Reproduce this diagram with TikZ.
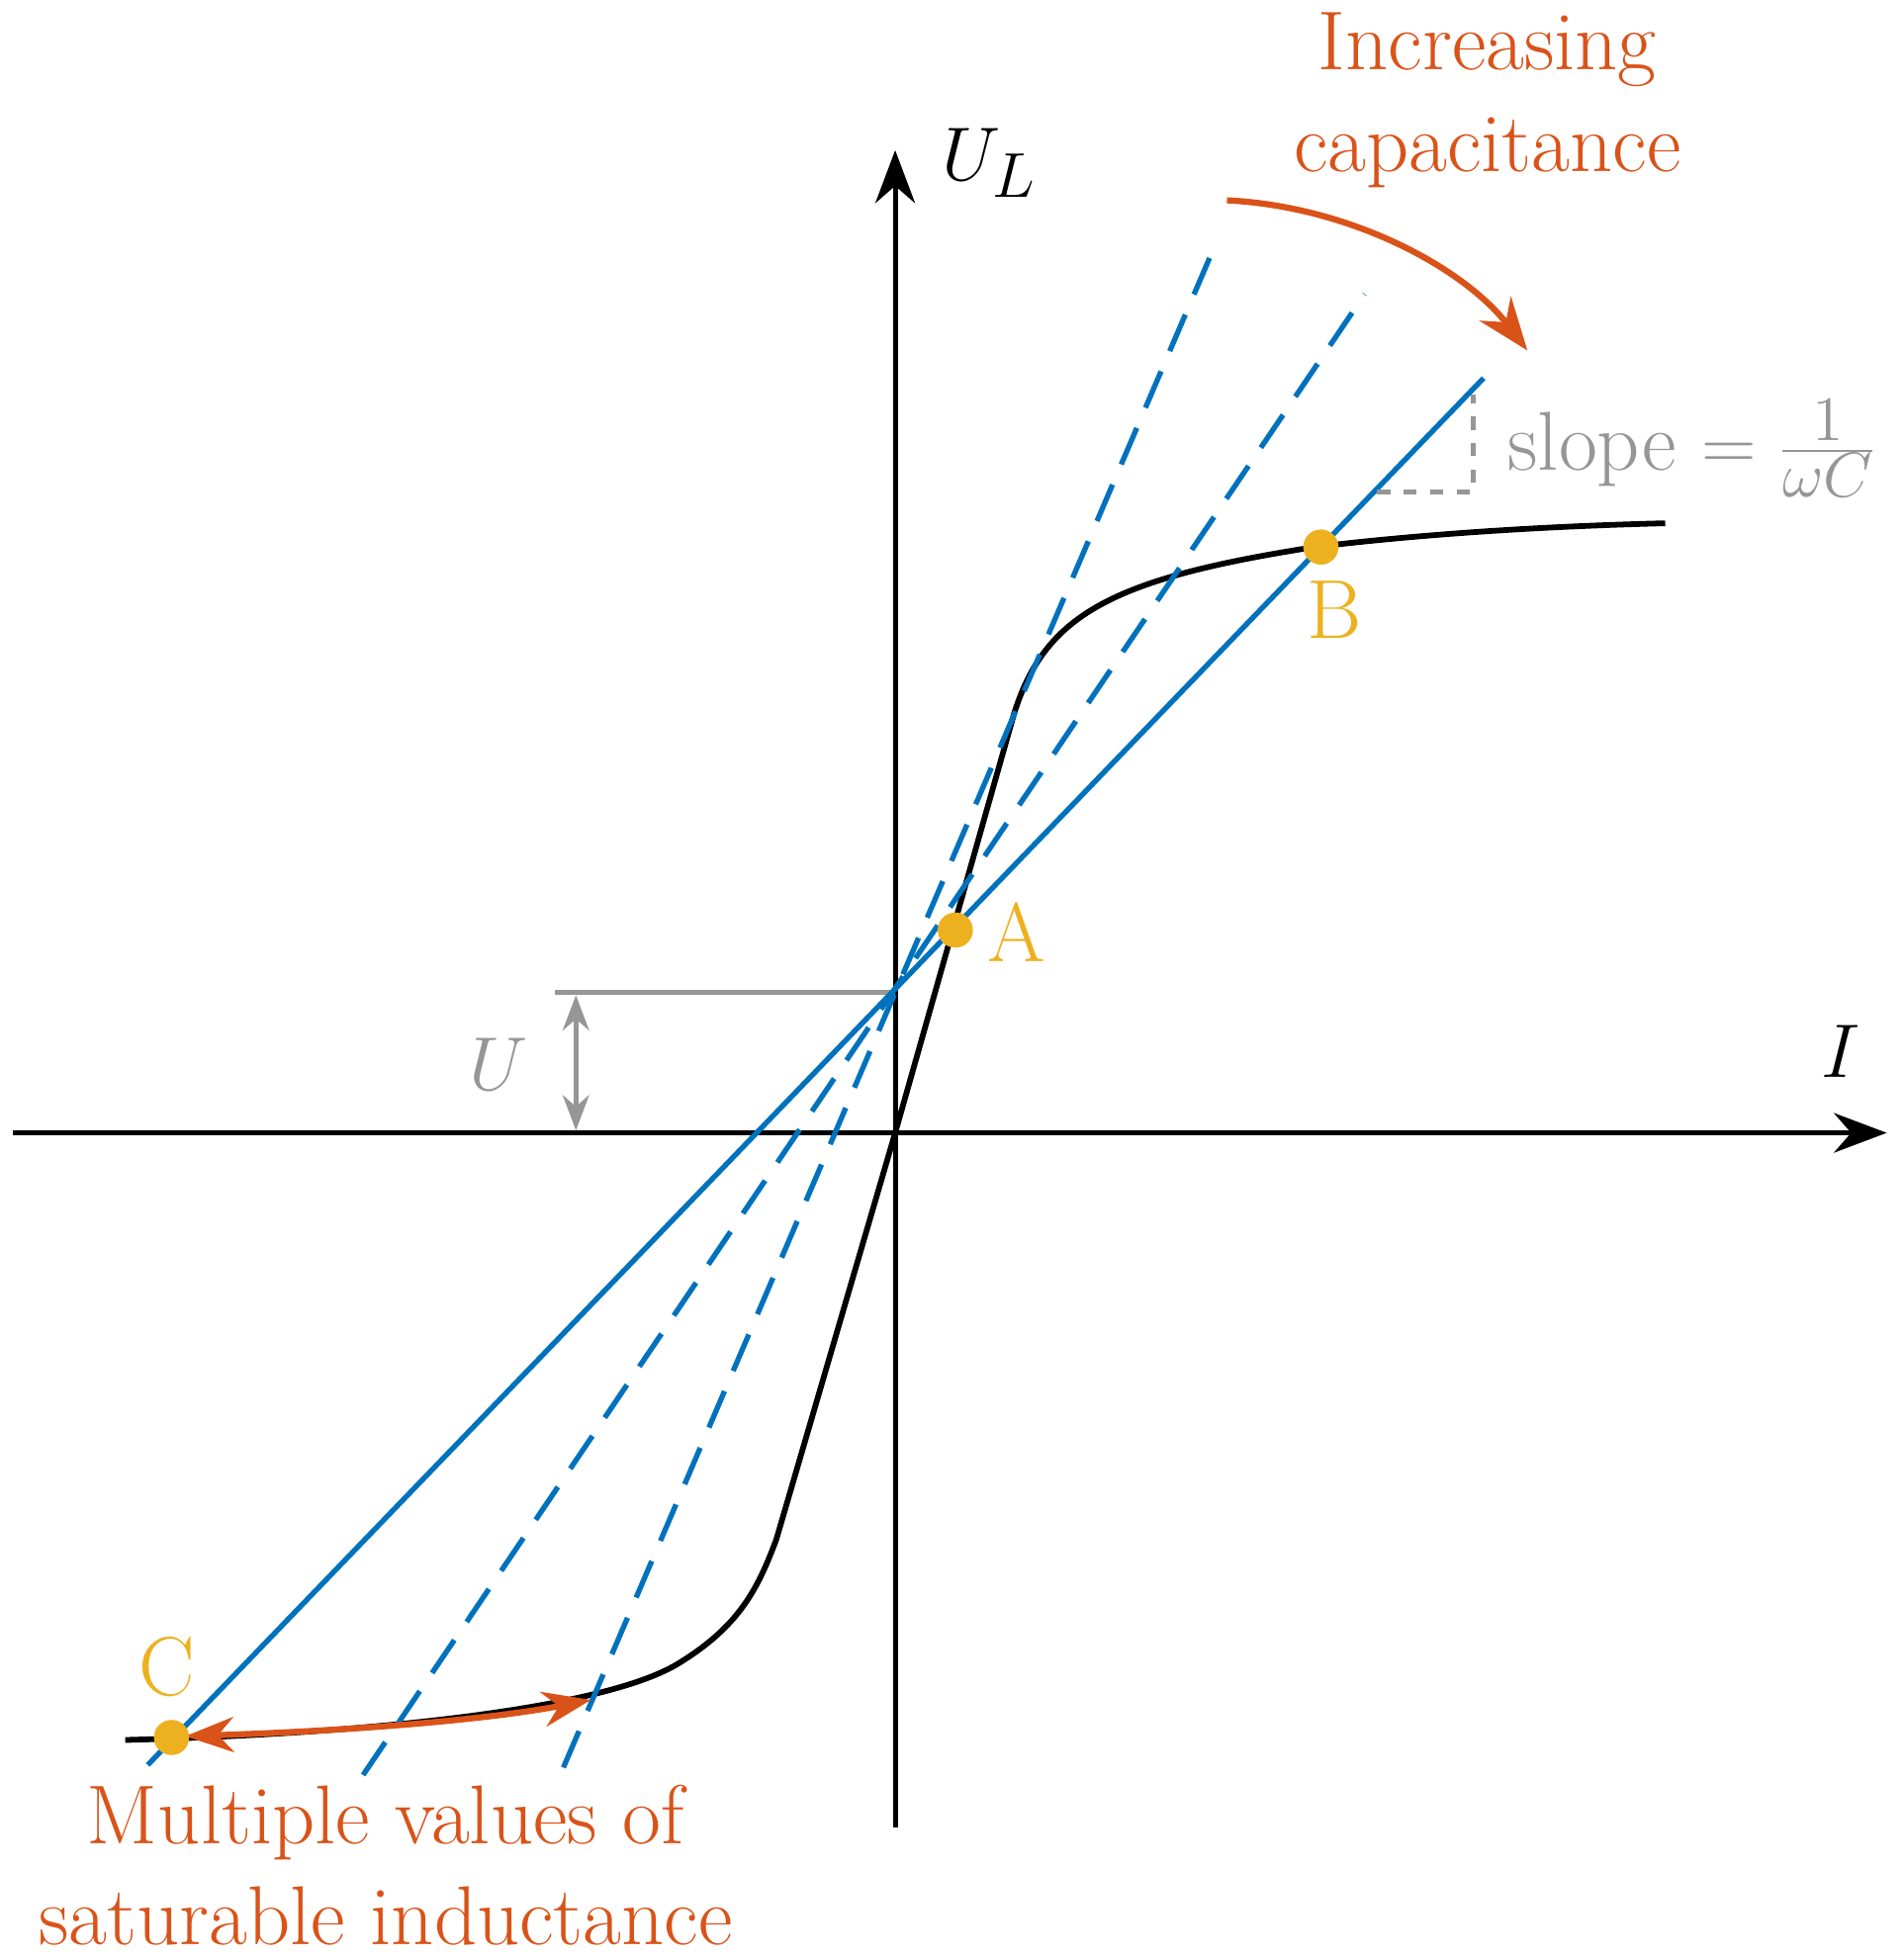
\documentclass[tikz,border=0pt]{standalone}
\usetikzlibrary{arrows.meta}
\definecolor{mblue}{RGB}{0,114,189}
\definecolor{morange}{RGB}{217,83,25}
\definecolor{myellow}{RGB}{237,177,32}
\definecolor{mgray}{RGB}{150,150,150}
\begin{document}
\begin{tikzpicture}[x=0.01cm,y=-0.01cm,
  lab/.style={font=\fontsize{19}{23}\selectfont,align=center},
  axis/.style={line width=1.1pt,-{Stealth[length=12pt,width=9pt]}},
  bl/.style={mblue,line width=1.2pt},
  dsh/.style={mblue,line width=1.2pt,dash pattern=on 9pt off 5pt},
  pt/.style={circle,fill=myellow,inner sep=0pt,minimum size=8pt}]
\useasboundingbox (0,0) rectangle (1520,1565);
\coordinate (O) at (715,905);
\coordinate (xl) at (10,905); \coordinate (xr) at (1507,905);
\coordinate (yb) at (715,1460); \coordinate (yt) at (715,120);
\draw[axis] (xl) -- (xr);
\draw[axis] (yb) -- (yt);
\node[lab,anchor=west] (UL) at (740,130) {$U_L$};
\node[lab] (Ilab) at (1470,840) {$I$};
% gray U
\coordinate (u1) at (443,793); \coordinate (u2) at (715,793);
\draw[mgray,line width=1.1pt] (u1) -- (u2);
\coordinate (ua) at (460,795); \coordinate (ub) at (460,903);
\draw[mgray,line width=1.1pt,{Stealth[length=8pt]}-{Stealth[length=8pt]}] (ua) -- (ub);
\node[lab,mgray] (Ulab) at (398,850) {$U$};
% black curve
\draw[line width=1.3pt] (100,1390) .. controls (300,1385) and (480,1365) .. (540,1330) .. controls (590,1300) and (605,1270) .. (620,1230) -- (O) -- (810,570) .. controls (835,490) and (890,462) .. (1050,437) .. controls (1150,425) and (1250,420) .. (1330,418);
% blue lines
\coordinate (d1a) at (290,1418); \coordinate (d1b) at (1090,235);
\coordinate (d2a) at (450,1412); \coordinate (d2b) at (970,197);
\draw[dsh] (d1a) -- (d1b);
\draw[dsh] (d2a) -- (d2b);
\coordinate (s1) at (118,1410); \coordinate (s2) at (1185,302);
\draw[bl] (s1) -- (s2);
% slope
\coordinate (p1) at (1100,393); \coordinate (p2) at (1177,393); \coordinate (p3) at (1177,315);
\draw[mgray,line width=1.1pt,dashed] (p1) -- (p2) -- (p3);
\node[lab,mgray,anchor=west] (slope) at (1192,358) {slope $=\frac{1}{\omega C}$};
% orange arrows
\coordinate (o1) at (980,160); \coordinate (o2) at (1220,280);
\draw[morange,line width=1.4pt,-{Stealth[length=12pt,width=9pt]}] (o1) .. controls (1080,165) and (1170,215) .. (o2);
\node[lab,morange] (inc) at (1188,80) {Increasing\\capacitance};
\coordinate (c1) at (148,1387); \coordinate (c2) at (472,1358);
\draw[morange,line width=1.4pt,{Stealth[length=11pt,width=8pt]}-{Stealth[length=11pt,width=8pt]}] (c1) .. controls (300,1382) and (400,1372) .. (c2);
\node[lab,morange] (mult) at (308,1490) {Multiple values of\\saturable inductance};
% points
\node[pt] (A) at (763,743) {};
\node[pt] (B) at (1055,437) {};
\node[pt] (C) at (137,1388) {};
\node[lab,myellow] (Al) at (812,745) {A};
\node[lab,myellow] (Bl) at (1066,487) {B};
\node[lab,myellow] (Cl) at (133,1332) {C};
\end{tikzpicture}
\end{document}
